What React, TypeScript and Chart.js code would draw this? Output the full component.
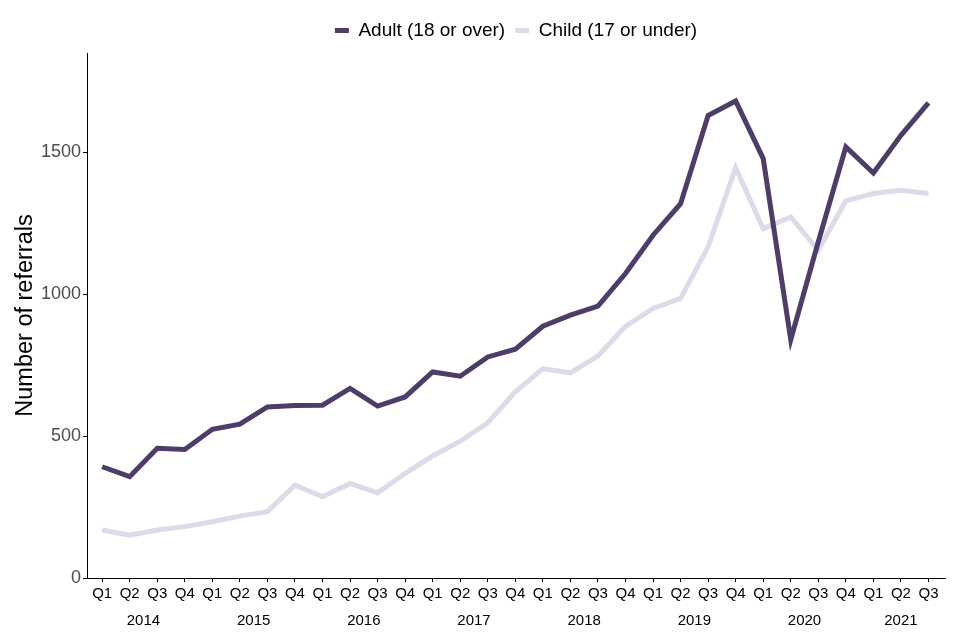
import React, { useEffect, useRef } from "react";
import { Chart, registerables } from "chart.js";

Chart.register(...registerables);

const quarters = [
  "Q1", "Q2", "Q3", "Q4",
  "Q1", "Q2", "Q3", "Q4",
  "Q1", "Q2", "Q3", "Q4",
  "Q1", "Q2", "Q3", "Q4",
  "Q1", "Q2", "Q3", "Q4",
  "Q1", "Q2", "Q3", "Q4",
  "Q1", "Q2", "Q3", "Q4",
  "Q1", "Q2", "Q3",
];
const years = ["2014", "2015", "2016", "2017", "2018", "2019", "2020", "2021"];
const quartersPerYear = [4, 4, 4, 4, 4, 4, 4, 3];

const adult = [
  392, 357, 457, 453,
  524, 542, 603, 608,
  609, 668, 606, 638,
  726, 711, 779, 806,
  887, 926, 958, 1073,
  1208, 1319, 1630, 1681,
  1478, 840, 1185, 1519,
  1427, 1560, 1674,
];
const child = [
  169, 151, 169, 181,
  198, 218, 234, 327,
  286, 333, 300, 369,
  430, 482, 547, 656,
  738, 723, 782, 887,
  950, 985, 1167, 1446,
  1231, 1272, 1155, 1329,
  1355, 1366, 1355,
];
const yTicks = [0, 500, 1000, 1500];

const FONT = '"Liberation Sans", Arial, sans-serif';

const yearPlugin = {
  id: "yearLabels",
  afterDraw(chart: any) {
    const xs = chart.scales.x;
    const ctx = chart.ctx;
    ctx.save();
    ctx.font = `15px ${FONT}`;
    ctx.fillStyle = "#000";
    ctx.textAlign = "center";
    ctx.textBaseline = "middle";
    let start = 0;
    years.forEach((yr, k) => {
      const n = quartersPerYear[k];
      const c = (xs.getPixelForValue(start) + xs.getPixelForValue(start + n - 1)) / 2;
      ctx.fillText(yr, c, xs.top + 43);
      start += n;
    });
    ctx.restore();
  },
};

// Centre the legend over the plot panel and give it a little extra height.
const legendTweak = {
  id: "legendTweak",
  beforeLayout(chart: any) {
    const lg = chart.legend;
    if (lg && !lg.__patched) {
      const orig = lg.fit.bind(lg);
      lg.fit = function () {
        orig();
        this.height += 3;
      };
      lg.__patched = true;
    }
  },
  afterLayout(chart: any) {
    const lg = chart.legend;
    if (lg) {
      lg.left = chart.chartArea.left;
      lg.right = chart.chartArea.right;
    }
  },
};

export default function App() {
  const ref = useRef<HTMLCanvasElement | null>(null);

  useEffect(() => {
    if (!ref.current) return;
    Chart.defaults.font.family = FONT;
    const chart = new Chart(ref.current, {
      type: "line",
      data: {
        datasets: [
          {
            label: "Adult (18 or over)",
            data: adult.map((v, i) => ({ x: i, y: v })),
            borderColor: "#4e3d6a",
            backgroundColor: "#4e3d6a",
            borderWidth: 5,
            pointRadius: 0,
            tension: 0,
          },
          {
            label: "Child (17 or under)",
            data: child.map((v, i) => ({ x: i, y: v })),
            borderColor: "#dfd9ea",
            backgroundColor: "#dfd9ea",
            borderWidth: 5,
            pointRadius: 0,
            tension: 0,
          },
        ],
      },
      options: {
        animation: false,
        responsive: false,
        maintainAspectRatio: false,
        layout: { padding: { top: 11, right: 15, left: 0, bottom: 0 } },
        plugins: {
          legend: {
            display: true,
            position: "top",
            align: "center",
            labels: {
              boxWidth: 14,
              boxHeight: 5,
              padding: 10,
              color: "#000",
              font: { size: 19, family: FONT },
              generateLabels: (c: any) =>
                Chart.defaults.plugins.legend.labels
                  .generateLabels(c)
                  .map((l: any) => ({ ...l, lineWidth: 0, fillStyle: l.strokeStyle })),
            },
          },
          tooltip: { enabled: false },
        },
        scales: {
          x: {
            type: "linear",
            min: -0.55,
            max: 30.6,
            afterBuildTicks: (s: any) => {
              s.ticks = quarters.map((_, i) => ({ value: i }));
            },
            afterFit: (s: any) => {
              s.height = 62;
            },
            ticks: {
              autoSkip: false,
              maxRotation: 0,
              padding: 3,
              color: "#000",
              font: { size: 15, family: FONT },
              callback: (v: any) => quarters[v as number],
            },
            grid: {
              display: true,
              drawOnChartArea: false,
              drawTicks: true,
              tickLength: 4,
              color: "#000",
            },
            border: { display: true, color: "#000", width: 1 },
          },
          y: {
            type: "linear",
            min: 0,
            max: 1850,
            afterBuildTicks: (s: any) => {
              s.ticks = yTicks.map((v) => ({ value: v }));
            },
            afterFit: (s: any) => {
              s.width = 87;
            },
            ticks: {
              padding: 2,
              color: "#4d4d4d",
              font: { size: 18, family: FONT },
              callback: (v: any) => String(v),
            },
            grid: {
              display: true,
              drawOnChartArea: false,
              drawTicks: true,
              tickLength: 4,
              color: "#000",
            },
            border: { display: true, color: "#000", width: 1 },
            title: {
              display: true,
              text: "Number of referrals",
              color: "#000",
              font: { size: 23.5, family: FONT },
              padding: { top: 11, bottom: 0 },
            },
          },
        },
      },
      plugins: [yearPlugin, legendTweak],
    });
    return () => chart.destroy();
  }, []);

  return (
    <div style={{ position: "fixed", left: 0, top: 0, width: 960, height: 640, background: "#fff" }}>
      <canvas ref={ref} width={960} height={640} style={{ width: 960, height: 640, display: "block" }} />
    </div>
  );
}
